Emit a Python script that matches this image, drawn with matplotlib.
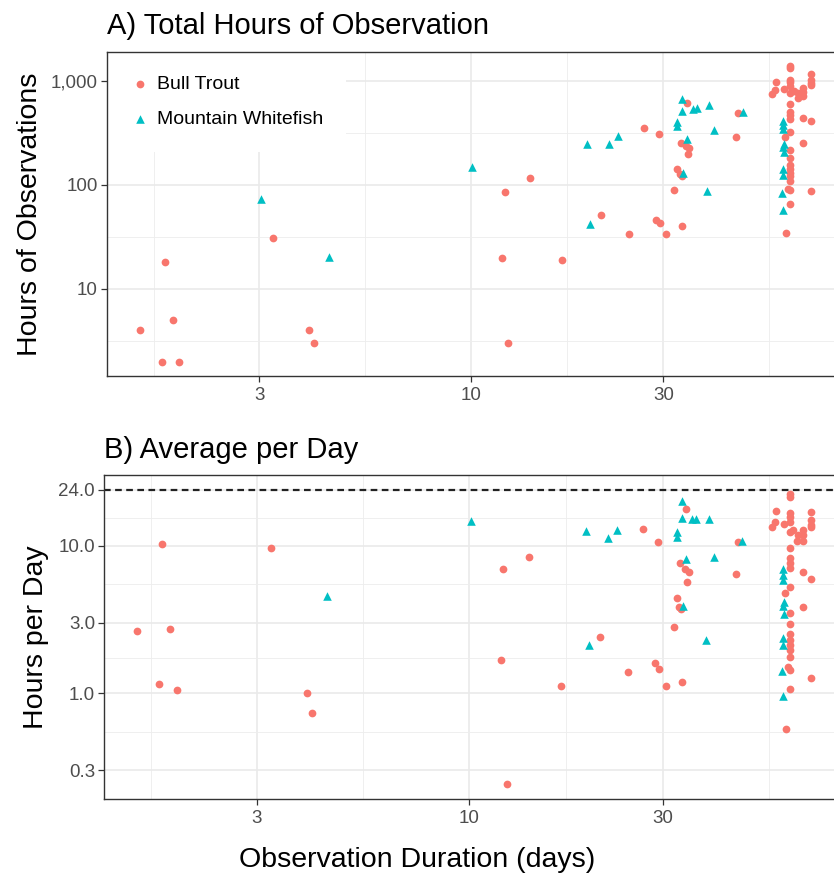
import numpy as np
import matplotlib
matplotlib.use('Agg')
import matplotlib.pyplot as plt
from matplotlib.ticker import FixedLocator, NullFormatter

plt.rcParams['font.family'] = ['Liberation Sans', 'DejaVu Sans']

# Bull Trout: observation duration (days) and total hours observed
bt_days = [1.52, 1.75, 1.83, 1.72, 1.90, 3.24, 3.98, 4.10,
           12.15, 14.06, 11.99, 16.85, 12.4, 26.9, 29.2, 21.08, 24.6, 28.7,
           29.4, 30.5, 33.4, 31.96,
           34.3, 46.0, 45.4, 33.1, 34.1, 34.8, 34.5, 32.5, 33.0, 33.3,
           61.8, 61.8, 61.8, 61.8, 61.8, 61.8, 61.8, 61.8, 61.8, 61.8,
           61.8, 61.8, 61.8, 61.8, 61.8, 61.8, 61.8, 61.8, 61.8, 61.8, 61.2,
           69.5, 69.5, 69.5, 69.5, 69.5, 69.5,
           66.5, 66.5, 66.5, 66.5, 66.5,
           64.7, 64.5, 63.0, 57.0, 56.8, 55.8, 59.6, 60.0, 60.4]
bt_hours = [4, 18, 5, 2, 2, 31, 4, 3,
            85, 117, 20, 19, 3, 351, 311, 51, 34, 46,
            43, 34, 40, 90,
            611, 489, 291, 252, 237, 229, 197, 143, 127, 123,
            1390, 1320, 1030, 970, 900, 760, 600, 508, 470, 434,
            325, 215, 183, 155, 142, 131, 122, 109, 89, 66, 92,
            1170, 1030, 960, 925, 415, 87.5,
            850, 785, 718, 444, 255,
            760, 690, 800, 972, 823, 750, 832, 288, 34.5]

# Mountain Whitefish
mw_days = [3.03, 4.46, 10.1, 19.45, 21.98, 23.14, 19.7,
           33.4, 33.4, 35.5, 36.3, 39.0, 32.5, 32.5, 47.2, 40.1, 34.3, 33.6, 38.4,
           59.5, 59.5, 59.3, 59.7, 59.3, 59.7, 59.3, 59.3, 59.1, 59.5]
mw_hours = [74, 20.4, 148, 246, 246, 296, 42,
            671, 515, 540, 548, 587, 401, 370, 507, 338, 277, 130, 87.5,
            412, 377, 349, 248, 230, 207, 141, 126, 84, 57]

x_breaks = [3, 10, 30]
x_labels = ['3', '10', '30']
a_breaks = [10, 100, 1000]
a_labels = ['10', '100', '1,000']
b_breaks = [0.3, 1, 3, 10, 24]
b_labels = ['0.3', '1.0', '3.0', '10.0', '24.0']

red = '#F8766D'
teal = '#00BFC4'

W, H = 834, 876
fig = plt.figure(figsize=(W / 100, H / 100), dpi=100)


def px_axes(l, t, r, b):
    return fig.add_axes([l / W, 1 - b / H, (r - l) / W, (b - t) / H])


def mids(b):
    b = np.log10(b)
    return list(10 ** ((b[:-1] + b[1:]) / 2))


def style(ax, ybreaks, ylabels, ylim, yminor):
    ax.set_xscale('log')
    ax.set_yscale('log')
    ax.set_xlim(1.259, 79.8)
    ax.set_ylim(*ylim)
    ax.xaxis.set_major_locator(FixedLocator(x_breaks))
    ax.set_xticklabels(x_labels)
    ax.xaxis.set_minor_locator(FixedLocator([1.643, 5.477, 17.32, 54.77]))
    ax.xaxis.set_minor_formatter(NullFormatter())
    ax.yaxis.set_major_locator(FixedLocator(ybreaks))
    ax.set_yticklabels(ylabels)
    ax.yaxis.set_minor_locator(FixedLocator(yminor))
    ax.yaxis.set_minor_formatter(NullFormatter())
    ax.set_axisbelow(True)
    ax.grid(which='major', color='#EAEAEA', lw=1.2)
    ax.grid(which='minor', color='#EDEDED', lw=0.6)
    ax.tick_params(which='major', length=4, width=0.9, color='#333333',
                   labelsize=13.5, labelcolor='#4D4D4D')
    ax.tick_params(axis='x', which='major', pad=3.6)
    ax.tick_params(axis='y', which='major', pad=2.5)
    ax.tick_params(which='minor', length=0)
    for sp in ax.spines.values():
        sp.set_color('#333333')
        sp.set_linewidth(1.0)
        sp.set_zorder(6)


ax1 = px_axes(107, 52, 835, 376)
ax2 = px_axes(104, 475, 835, 799)

# A) total hours
ax1.scatter(bt_days, bt_hours, s=31, c=red, marker='o', linewidths=0,
            label='Bull Trout', zorder=3)
ax1.scatter(mw_days, mw_hours, s=38, c=teal, marker='^', linewidths=0,
            label='Mountain Whitefish', zorder=3)
style(ax1, a_breaks, a_labels, (1.455, 1901), [10 ** 0.5, 10 ** 1.5, 10 ** 2.5])
leg = ax1.legend(loc='upper left', bbox_to_anchor=(0, 1), borderaxespad=0,
                 frameon=True, fancybox=False, edgecolor='none',
                 facecolor='white', framealpha=1, fontsize=14, borderpad=1.2,
                 handlelength=1.0, handletextpad=0.35, labelspacing=0.92,
                 scatterpoints=1)
leg.set_zorder(5)

# B) hours per day (only values that fit in a day)
bt_pd = np.array(bt_hours) / np.array(bt_days)
mw_pd = np.array(mw_hours) / np.array(mw_days)
keep_bt = bt_pd <= 24
keep_mw = mw_pd <= 24
ax2.axhline(24, color='#222222', lw=1.6, dashes=(3.0, 2.0), zorder=2)
ax2.scatter(np.array(bt_days)[keep_bt], bt_pd[keep_bt], s=31, c=red,
            marker='o', linewidths=0, zorder=3)
ax2.scatter(np.array(mw_days)[keep_mw], mw_pd[keep_mw], s=38, c=teal,
            marker='^', linewidths=0, zorder=3)
style(ax2, b_breaks, b_labels, (0.192, 30.1), mids([0.09, 0.3, 1, 3, 10, 24]))

# titles and axis labels
fig.text(107 / W, 1 - 34 / H, 'A) Total Hours of Observation', fontsize=21,
         ha='left', va='baseline')
fig.text(104 / W, 1 - 458 / H, 'B) Average per Day', fontsize=21,
         ha='left', va='baseline')
fig.text(36.7 / W, 1 - 214 / H, 'Hours of Observations', fontsize=20.5,
         rotation=90, rotation_mode='anchor', ha='center', va='baseline')
fig.text(42.7 / W, 1 - 637 / H, 'Hours per Day', fontsize=20.5,
         rotation=90, rotation_mode='anchor', ha='center', va='baseline')
fig.text(417 / W, 1 - 867 / H, 'Observation Duration (days)', fontsize=20.5,
         ha='center', va='baseline')

plt.savefig('out.png', dpi=100)
